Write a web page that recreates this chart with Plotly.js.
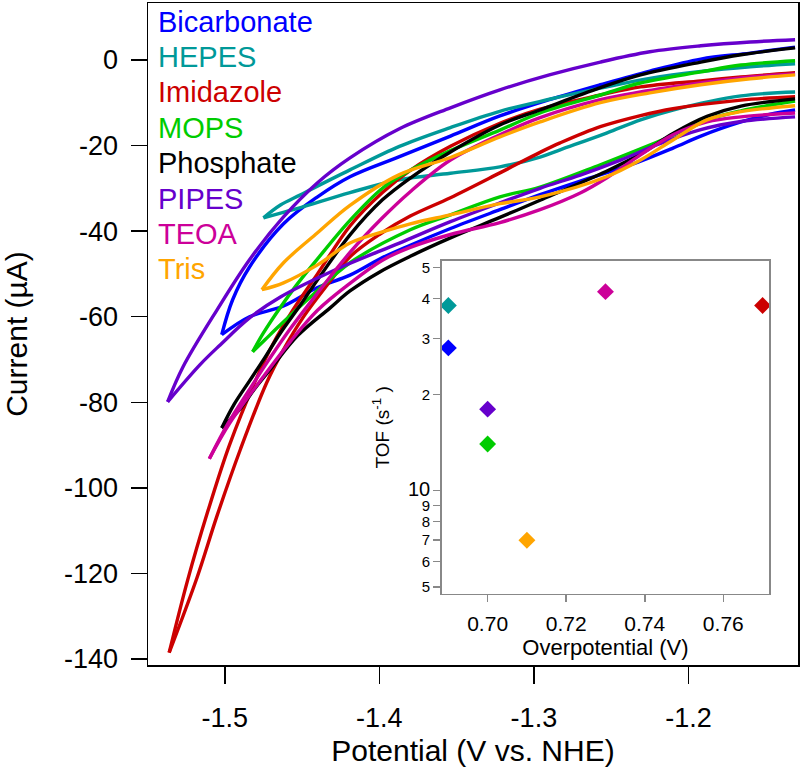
<!DOCTYPE html>
<html>
<head>
<meta charset="utf-8">
<script src="https://cdn.plot.ly/plotly-3.0.1.min.js"></script>
<style>
  html, body { margin: 0; padding: 0; background: #fff; }
  #plot { width: 800px; height: 768px; }
</style>
</head>
<body>
<div id="plot"></div>
<script>
// Buffer names and colours (legend order)
const buffers = ['Bicarbonate', 'HEPES', 'Imidazole', 'MOPS', 'Phosphate', 'PIPES', 'TEOA', 'Tris'];
const colors = ['#0000ff', '#009999', '#cc0000', '#00cc00', '#000000', '#6600cc', '#cc0099', '#ffa500'];

// Cyclic voltammograms: potential (V vs. NHE) and current (uA).
// Each scan starts at the right, runs to the turning point and comes back.
const bicarbonateV = [-1.131, -1.160, -1.192, -1.225, -1.257, -1.290, -1.322, -1.354, -1.387, -1.419, -1.440, -1.462, -1.484, -1.495, -1.502,
  -1.484, -1.462, -1.440, -1.419, -1.398, -1.380, -1.354, -1.322, -1.296, -1.270, -1.238, -1.210, -1.192, -1.166, -1.147, -1.131];
const bicarbonateI = [3.0, 1.6, 0.2, -2.6, -5.8, -9.3, -13.1, -17.8, -22.6, -27.3, -32.0, -38.3, -48.4, -56.1, -64.2,
  -60.0, -57.5, -53.2, -50.3, -46.2, -43.3, -39.4, -35.0, -31.5, -28.3, -24.6, -20.6, -17.8, -14.5, -12.7, -11.7];

const hepesV = [-1.131, -1.160, -1.192, -1.225, -1.257, -1.290, -1.322, -1.354, -1.387, -1.419, -1.451, -1.464, -1.475,
  -1.461, -1.451, -1.419, -1.387, -1.354, -1.322, -1.296, -1.283, -1.253, -1.231, -1.210, -1.166, -1.131];
const hepesI = [-0.9, -1.6, -2.7, -4.3, -6.6, -9.2, -12.0, -15.8, -20.2, -25.7, -31.5, -33.9, -36.9,
  -35.5, -34.5, -31.0, -28.0, -26.5, -25.0, -22.7, -21.0, -17.1, -14.0, -11.7, -8.4, -7.5];

const imidazoleV = [-1.131, -1.166, -1.192, -1.231, -1.257, -1.296, -1.322, -1.354, -1.380, -1.398, -1.419, -1.440, -1.456, -1.469, -1.479, -1.497, -1.511, -1.524, -1.536,
  -1.518, -1.505, -1.490, -1.473, -1.462, -1.449, -1.432, -1.419, -1.400, -1.380, -1.354, -1.322, -1.296, -1.283, -1.257, -1.231, -1.210, -1.166, -1.131];
const imidazoleI = [-3.0, -4.0, -4.9, -6.3, -8.2, -11.5, -14.8, -20.2, -25.8, -31.0, -38.8, -50.0, -58.5, -66.5, -74.0, -90.0, -105.5, -121.5, -138.5,
  -121.0, -106.5, -91.1, -75.5, -67.7, -60.0, -51.8, -46.0, -40.8, -36.5, -32.2, -26.4, -21.6, -19.4, -15.6, -13.0, -11.4, -9.4, -8.6];

const mopsV = [-1.131, -1.166, -1.192, -1.231, -1.257, -1.296, -1.322, -1.354, -1.380, -1.398, -1.419, -1.440, -1.454, -1.464, -1.475, -1.482,
  -1.474, -1.464, -1.443, -1.419, -1.380, -1.354, -1.322, -1.296, -1.257, -1.231, -1.210, -1.188, -1.166, -1.131];
const mopsI = [-0.2, -1.2, -2.8, -5.4, -8.2, -12.4, -16.4, -21.2, -25.8, -30.0, -37.5, -46.5, -52.8, -57.8, -63.8, -68.2,
  -65.4, -61.9, -54.9, -47.4, -39.7, -36.2, -32.0, -29.7, -24.5, -20.8, -17.6, -14.0, -11.9, -9.6];

const phosphateV = [-1.131, -1.166, -1.192, -1.231, -1.257, -1.296, -1.322, -1.354, -1.380, -1.398, -1.419, -1.440, -1.451, -1.464, -1.474, -1.484, -1.494, -1.502,
  -1.490, -1.481, -1.471, -1.453, -1.432, -1.419, -1.400, -1.380, -1.354, -1.322, -1.296, -1.253, -1.231, -1.210, -1.188, -1.166, -1.131];
const phosphateI = [2.8, 1.2, -0.5, -3.5, -6.5, -11.7, -15.2, -21.5, -27.6, -32.7, -40.9, -51.4, -57.2, -63.8, -69.5, -75.0, -80.5, -86.0,
  -81.5, -77.0, -72.5, -64.5, -58.0, -54.0, -49.6, -45.9, -41.6, -36.8, -32.8, -26.0, -22.0, -17.2, -13.2, -10.8, -9.1];

const pipesV = [-1.131, -1.160, -1.192, -1.225, -1.257, -1.290, -1.322, -1.354, -1.387, -1.419, -1.440, -1.462, -1.484, -1.505, -1.527, -1.537,
  -1.516, -1.503, -1.484, -1.464, -1.427, -1.387, -1.354, -1.322, -1.296, -1.270, -1.244, -1.218, -1.192, -1.166, -1.131];
const pipesI = [4.7, 4.2, 3.3, 1.9, -0.5, -3.5, -7.0, -11.2, -16.1, -22.9, -28.7, -36.7, -46.7, -58.4, -71.7, -79.9,
  -71.2, -66.6, -60.3, -55.4, -48.8, -42.8, -37.8, -33.4, -30.0, -26.9, -23.4, -19.5, -16.3, -14.4, -13.3];

const teoaV = [-1.131, -1.166, -1.192, -1.231, -1.257, -1.296, -1.322, -1.354, -1.380, -1.398, -1.419, -1.440, -1.458, -1.471, -1.484, -1.498, -1.510,
  -1.497, -1.475, -1.458, -1.440, -1.419, -1.398, -1.380, -1.354, -1.322, -1.296, -1.270, -1.253, -1.231, -1.210, -1.188, -1.166, -1.131];
const teoaI = [-3.3, -4.2, -5.4, -7.5, -9.3, -13.5, -17.5, -23.4, -30.8, -36.9, -45.0, -54.5, -63.0, -69.8, -77.0, -85.0, -93.2,
  -85.0, -74.0, -66.0, -58.5, -52.2, -46.8, -43.8, -40.8, -38.0, -35.0, -31.1, -27.6, -22.2, -17.5, -14.5, -13.3, -12.4];

const trisV = [-1.131, -1.160, -1.192, -1.225, -1.257, -1.296, -1.322, -1.354, -1.387, -1.419, -1.440, -1.462, -1.476,
  -1.462, -1.440, -1.419, -1.398, -1.380, -1.354, -1.322, -1.296, -1.253, -1.231, -1.210, -1.188, -1.166, -1.131];
const trisI = [-3.5, -4.4, -5.8, -7.7, -10.0, -14.5, -18.0, -22.8, -26.8, -34.0, -40.4, -47.4, -53.7,
  -52.1, -47.9, -42.8, -40.2, -38.3, -36.2, -33.6, -32.0, -27.3, -23.4, -18.7, -14.0, -12.1, -10.7];

// Inset: turnover frequency vs overpotential
const tofBuffers = ['HEPES', 'Bicarbonate', 'PIPES', 'MOPS', 'Tris', 'TEOA', 'Imidazole'];
const overpotential = [0.69, 0.69, 0.70, 0.70, 0.71, 0.73, 0.77];
const tof = [38, 28, 18, 14, 7, 42, 38];

const tofTickVals = [5, 6, 7, 8, 9, 10, 20, 30, 40, 50];
const tofTickText = ['5', '6', '7', '8', '9', '<span style="font-size:20px">10</span>', '2', '3', '4', '5'];

const potTicks = [-1.5, -1.4, -1.3, -1.2];
const currentTicks = [0, -20, -40, -60, -80, -100, -120, -140];

const FONT = 'Liberation Sans, Arial, Helvetica, sans-serif';

const cvs = {
    Bicarbonate: [bicarbonateV, bicarbonateI],
    HEPES: [hepesV, hepesI],
    Imidazole: [imidazoleV, imidazoleI],
    MOPS: [mopsV, mopsI],
    Phosphate: [phosphateV, phosphateI],
    PIPES: [pipesV, pipesI],
    TEOA: [teoaV, teoaI],
    Tris: [trisV, trisI]
};

// Split every scan at its turning point so the tip stays sharp
let traces = [];
buffers.forEach((name, i) => {
    let v = cvs[name][0], cur = cvs[name][1];
    let tip = v.indexOf(Math.min(...v));
    [[0, tip + 1], [tip, v.length]].forEach(([a, b]) => {
        traces.push({
            x: v.slice(a, b),
            y: cur.slice(a, b),
            name: name,
            type: 'scatter',
            mode: 'lines',
            line: {color: colors[i], width: 3.4, shape: 'spline', smoothing: 1},
            hoverinfo: 'skip'
        });
    });
});

traces.push({
    x: overpotential,
    y: tof,
    type: 'scatter',
    mode: 'markers',
    marker: {
        symbol: 'diamond',
        size: 13,
        color: tofBuffers.map(b => colors[buffers.indexOf(b)])
    },
    xaxis: 'x2',
    yaxis: 'y2',
    hoverinfo: 'skip'
});

// Coloured buffer names in the upper left corner
const legendTop = 0.972;
const legendStep = 0.0535;
let annotations = buffers.map((name, i) => ({
    text: name,
    xref: 'paper', yref: 'paper',
    x: 0.012, y: legendTop - i * legendStep,
    xanchor: 'left', yanchor: 'middle',
    showarrow: false,
    font: {family: FONT, size: 29, color: colors[i]}
}));

const layout = {
    width: 800,
    height: 768,
    margin: {l: 148, r: 2, t: 3, b: 103},
    paper_bgcolor: '#fff',
    plot_bgcolor: '#fff',
    showlegend: false,
    font: {family: FONT, color: '#000'},
    xaxis: {
        range: [-1.5497, -1.1291],
        tickvals: potTicks,
        ticktext: potTicks.map(t => t.toFixed(1)),
        ticks: 'outside', ticklen: 17, tickwidth: 1.5, tickcolor: '#000',
        ticklabelstandoff: 11,
        showline: true, mirror: true, linecolor: '#000', linewidth: 1.5,
        showgrid: false, zeroline: false,
        tickfont: {size: 27},
        title: {text: 'Potential (V vs. NHE)', font: {size: 30}, standoff: 8},
        automargin: false
    },
    yaxis: {
        range: [-141.4, 13.3],
        tickvals: currentTicks,
        ticktext: currentTicks.map(String),
        ticks: 'outside', ticklen: 16, tickwidth: 1.5, tickcolor: '#000',
        ticklabelstandoff: 7,
        showline: true, mirror: true, linecolor: '#000', linewidth: 1.5,
        showgrid: false, zeroline: false,
        tickfont: {size: 27},
        title: {text: 'Current (µA)', font: {size: 30}, standoff: 30},
        automargin: false
    },
    xaxis2: {
        domain: [0.4518, 0.9558],
        anchor: 'y2',
        range: [0.6883, 0.7717],
        tickvals: [0.70, 0.72, 0.74, 0.76],
        ticktext: ['0.70', '0.72', '0.74', '0.76'],
        ticks: 'outside', ticklen: 7, tickwidth: 1.5, tickcolor: '#888',
        ticklabelstandoff: 3,
        showline: true, mirror: true, linecolor: '#888', linewidth: 1.5,
        showgrid: false, zeroline: false,
        tickfont: {size: 21},
        title: {text: 'Overpotential (V)', font: {size: 22}, standoff: 4},
        automargin: false
    },
    yaxis2: {
        domain: [0.1075, 0.6106],
        anchor: 'x2',
        type: 'log',
        range: [0.6771, 1.7199],
        tickvals: tofTickVals,
        ticktext: tofTickText,
        ticks: 'outside', ticklen: 7, tickwidth: 1.5, tickcolor: '#888',
        ticklabelstandoff: 0,
        showline: true, mirror: true, linecolor: '#888', linewidth: 1.5,
        showgrid: false, zeroline: false,
        tickfont: {size: 15},
        title: {text: 'TOF (s<sup>-1</sup> )', font: {size: 19}, standoff: 13},
        automargin: false
    },
    annotations: annotations
};

Plotly.newPlot('plot', traces, layout, {staticPlot: true});
</script>
</body>
</html>
